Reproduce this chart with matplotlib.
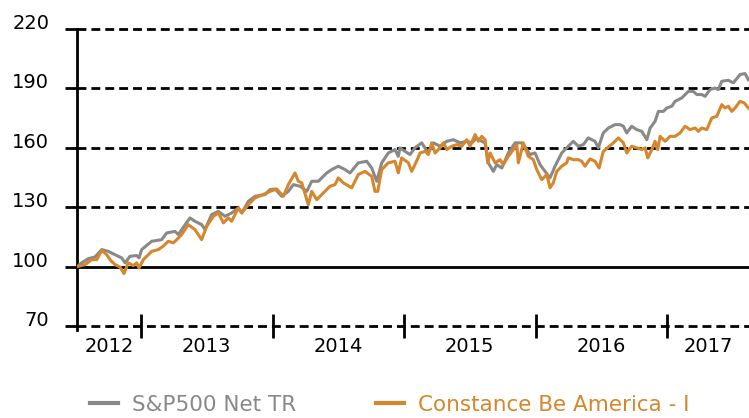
import numpy as np
import matplotlib
matplotlib.use("Agg")
import matplotlib.pyplot as plt

# dates as decimal years, values rebased to 100
sp_t = [2012.513, 2012.549, 2012.599, 2012.650, 2012.701, 2012.751, 2012.802, 2012.853, 2012.878, 2012.916,
        2012.967, 2012.985, 2013.005, 2013.081, 2013.157, 2013.195, 2013.258, 2013.283, 2013.372, 2013.410,
        2013.461, 2013.486, 2013.537, 2013.588, 2013.639, 2013.689, 2013.740, 2013.766, 2013.816, 2013.867,
        2013.943, 2013.981, 2014.019, 2014.070, 2014.120, 2014.158, 2014.209, 2014.260, 2014.298, 2014.348,
        2014.412, 2014.450, 2014.500, 2014.551, 2014.589, 2014.652, 2014.716, 2014.754, 2014.792, 2014.830,
        2014.880, 2014.931, 2014.956, 2014.969, 2015.007, 2015.045, 2015.083, 2015.134, 2015.185, 2015.223,
        2015.274, 2015.325, 2015.375, 2015.426, 2015.477, 2015.515, 2015.553, 2015.591, 2015.616, 2015.641,
        2015.679, 2015.705, 2015.743, 2015.793, 2015.844, 2015.895, 2015.933, 2015.958, 2015.996, 2016.034,
        2016.072, 2016.110, 2016.148, 2016.199, 2016.249, 2016.287, 2016.325, 2016.363, 2016.401, 2016.452,
        2016.477, 2016.515, 2016.554, 2016.604, 2016.643, 2016.668, 2016.693, 2016.731, 2016.769, 2016.808,
        2016.846, 2016.871, 2016.909, 2016.934, 2016.972, 2016.998, 2017.036, 2017.061, 2017.112, 2017.162,
        2017.200, 2017.226, 2017.264, 2017.289, 2017.327, 2017.365, 2017.390, 2017.416, 2017.466, 2017.504,
        2017.555, 2017.593, 2017.618]
sp_v = [100.0, 101.9, 104.0, 104.9, 108.6, 107.7, 106.0, 104.4, 101.9, 105.2,
        105.6, 104.4, 108.6, 112.8, 113.6, 117.0, 117.8, 116.2, 124.6, 122.9,
        121.2, 118.7, 126.3, 127.9, 125.4, 127.1, 129.6, 127.1, 133.0, 135.5,
        136.4, 138.9, 139.2, 135.5, 138.0, 141.4, 140.6, 138.0, 143.1, 143.1,
        147.3, 149.0, 150.7, 149.0, 147.3, 152.4, 153.2, 149.8, 143.1, 152.4,
        157.4, 159.1, 155.7, 160.0, 158.2, 156.6, 160.0, 162.5, 157.4, 162.5,
        160.8, 163.3, 164.1, 162.5, 163.3, 162.5, 165.0, 163.3, 162.5, 152.4,
        148.1, 151.5, 149.8, 157.4, 162.5, 162.5, 159.1, 156.6, 157.4, 151.5,
        148.1, 144.8, 150.7, 157.4, 160.8, 163.3, 160.8, 161.6, 165.0, 163.3,
        160.0, 167.5, 170.0, 171.7, 171.7, 170.9, 167.5, 170.9, 169.2, 168.3,
        164.1, 170.0, 173.4, 178.4, 178.4, 180.1, 181.0, 183.5, 185.2, 188.5,
        188.5, 186.9, 186.9, 186.0, 189.4, 190.2, 189.4, 193.6, 194.1, 192.8,
        197.0, 197.5, 194.4]

cb_t = [2012.513, 2012.574, 2012.625, 2012.663, 2012.701, 2012.739, 2012.764, 2012.802, 2012.840, 2012.870,
        2012.903, 2012.941, 2012.967, 2012.985, 2013.017, 2013.081, 2013.131, 2013.169, 2013.207, 2013.245,
        2013.271, 2013.309, 2013.359, 2013.410, 2013.461, 2013.499, 2013.550, 2013.588, 2013.626, 2013.664,
        2013.689, 2013.740, 2013.766, 2013.816, 2013.867, 2013.930, 2013.981, 2014.032, 2014.082, 2014.120,
        2014.171, 2014.196, 2014.222, 2014.272, 2014.298, 2014.336, 2014.386, 2014.437, 2014.475, 2014.500,
        2014.538, 2014.602, 2014.652, 2014.703, 2014.754, 2014.779, 2014.800, 2014.830, 2014.880, 2014.931,
        2014.956, 2014.982, 2015.033, 2015.058, 2015.083, 2015.122, 2015.160, 2015.185, 2015.210, 2015.236,
        2015.274, 2015.299, 2015.325, 2015.363, 2015.401, 2015.439, 2015.477, 2015.502, 2015.540, 2015.565,
        2015.591, 2015.616, 2015.636, 2015.654, 2015.692, 2015.730, 2015.755, 2015.793, 2015.831, 2015.857,
        2015.869, 2015.907, 2015.945, 2015.983, 2016.009, 2016.047, 2016.085, 2016.110, 2016.135, 2016.161,
        2016.199, 2016.237, 2016.249, 2016.287, 2016.325, 2016.351, 2016.376, 2016.414, 2016.452, 2016.483,
        2016.515, 2016.554, 2016.592, 2016.630, 2016.668, 2016.693, 2016.731, 2016.769, 2016.808, 2016.833,
        2016.853, 2016.884, 2016.909, 2016.929, 2016.947, 2016.985, 2017.023, 2017.061, 2017.099, 2017.137,
        2017.175, 2017.213, 2017.238, 2017.264, 2017.302, 2017.340, 2017.378, 2017.416, 2017.441, 2017.466,
        2017.492, 2017.517, 2017.555, 2017.588, 2017.618]
cb_v = [100.0, 101.0, 103.5, 103.5, 108.2, 106.0, 103.5, 101.0, 99.8, 96.5,
        101.9, 100.5, 101.9, 99.3, 103.5, 107.7, 108.6, 110.3, 112.8, 112.0,
        113.6, 116.2, 121.2, 118.7, 113.6, 120.3, 125.4, 127.1, 122.1, 124.6,
        122.9, 129.6, 127.1, 131.3, 134.7, 136.4, 138.0, 139.2, 135.5, 141.4,
        147.3, 143.1, 142.3, 131.3, 138.0, 133.8, 137.2, 140.6, 141.4, 144.8,
        142.3, 139.8, 146.5, 148.1, 145.6, 138.0, 138.0, 149.0, 152.4, 153.2,
        147.3, 154.9, 152.4, 148.1, 151.5, 157.4, 158.2, 156.6, 162.5, 157.4,
        160.0, 162.5, 159.1, 160.8, 161.6, 160.8, 164.1, 160.8, 166.7, 163.3,
        165.8, 164.1, 152.4, 157.4, 152.4, 154.0, 151.5, 155.7, 159.1, 161.6,
        152.4, 162.5, 155.7, 154.0, 149.0, 143.9, 146.5, 139.8, 142.3, 148.1,
        150.7, 152.4, 154.9, 154.0, 154.0, 153.2, 150.7, 154.4, 153.2, 149.8,
        158.2, 160.4, 162.5, 165.0, 162.5, 157.4, 160.8, 160.0, 159.1, 160.0,
        154.9, 159.1, 163.3, 159.1, 165.8, 163.3, 165.8, 165.8, 167.5, 170.9,
        169.2, 170.0, 168.3, 170.0, 169.2, 175.1, 175.9, 181.8, 180.1, 181.0,
        178.4, 180.1, 183.5, 182.6, 180.1]

years = [2012, 2013, 2014, 2015, 2016, 2017]
y_ticks = [70, 100, 130, 160, 190, 220]
labels = ['S&P500 Net TR', 'Constance Be America - I']
colors = ['#898989', '#d6862c']

plt.rcParams['font.family'] = 'DejaVu Sans'

fig = plt.figure(figsize=(7.49, 4.18), dpi=100)
ax = fig.add_axes([0.1028, 0.2201, 0.8972, 0.7105])

x0, x1 = 2012.513, 2017.623
ax.set_xlim(x0, x1)
ax.set_ylim(70, 220)

# lignes horizontales (pointillées sauf 100)
dash = (0, (3.2, 1.8))
for y in y_ticks:
    if y == 100:
        ax.axhline(y, color='black', lw=2, zorder=1, clip_on=False)
    else:
        ax.axhline(y, color='black', lw=2, ls=dash, zorder=1, clip_on=False)

ax.plot(sp_t, sp_v, color=colors[0], lw=2.2, label=labels[0], zorder=3)
ax.plot(cb_t, cb_v, color=colors[1], lw=2.2, label=labels[1], zorder=3)

for s in ['top', 'right', 'bottom']:
    ax.spines[s].set_visible(False)
ax.spines['left'].set_linewidth(2)
ax.spines['left'].set_bounds(68, 220)

ax.set_yticks(y_ticks)
ax.tick_params(axis='y', length=9, width=2, direction='out', pad=11, labelsize=14)
for lab in ax.get_yticklabels():
    lab.set_verticalalignment('baseline')

# ticks aux changements d'année, libellés au milieu
ax.set_xticks(years[1:])
ax.set_xticklabels([])
ax.tick_params(axis='x', which='major', direction='inout', length=17, width=2)
mids = [(max(y, x0) + min(y + 1, x1)) / 2 for y in years]
ax.set_xticks(mids, minor=True)
ax.set_xticklabels([str(y) for y in years], minor=True)
ax.tick_params(axis='x', which='minor', length=0, pad=8, labelsize=14)

leg = fig.legend(loc='center left', bbox_to_anchor=(0.120, 0.032), ncol=2, frameon=False,
                 fontsize=15.5, handlelength=1.3, handletextpad=0.65, columnspacing=3.7,
                 borderpad=0, borderaxespad=0)
for txt, c in zip(leg.get_texts(), colors):
    txt.set_color(c)
for h in leg.get_lines():
    h.set_linewidth(3)

fig.savefig('out.png', dpi=100)
